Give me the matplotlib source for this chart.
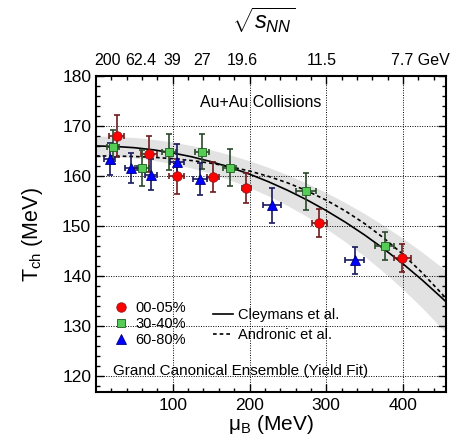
import matplotlib
matplotlib.use('Agg')
import matplotlib.pyplot as plt
from matplotlib.lines import Line2D

plt.rcParams['font.family'] = ['Liberation Sans', 'DejaVu Sans']
plt.rcParams['mathtext.fontset'] = 'custom'
plt.rcParams['mathtext.rm'] = 'Liberation Sans'
plt.rcParams['mathtext.it'] = 'Liberation Sans:italic'

# freeze-out points (muB in MeV, T in MeV)
mu_0005 = [27, 69, 105, 152, 196, 291, 399]
t_0005 = [167.9, 164.3, 159.9, 159.8, 157.5, 150.6, 143.6]
terr_0005 = [4.2, 3.6, 3.5, 3.0, 3.0, 2.8, 2.8]
muerr_0005 = [10, 10, 10, 8, 6, 10, 11]

mu_3040 = [22, 60, 95, 138, 174, 274, 376]
t_3040 = [165.8, 161.6, 164.8, 164.8, 161.6, 156.9, 146.0]
terr_3040 = [3.4, 3.6, 3.6, 3.5, 3.7, 3.7, 2.8]
muerr_3040 = [8, 9, 9, 9, 9, 13, 12]

mu_6080 = [18, 46, 72, 105, 135, 229, 337]
t_6080 = [163.4, 161.6, 160.2, 162.8, 159.4, 154.1, 143.1]
terr_6080 = [3.2, 3.0, 3.1, 3.5, 3.2, 3.5, 2.7]
muerr_6080 = [7, 8, 8, 9, 9, 12, 12]

# model curves
mu_curve = [0, 25, 50, 75, 100, 125, 150, 175, 200, 225, 250, 275,
            300, 325, 350, 375, 400, 425, 450, 455]
t_cleymans = [166.0, 165.9, 165.65, 165.22, 164.6, 163.82, 162.85, 161.69,
              160.36, 158.82, 157.1, 155.19, 153.06, 150.73, 148.18, 145.4,
              142.4, 139.16, 135.68, 134.95]
band_hi = [168.0, 167.92, 167.69, 167.31, 166.77, 166.07, 165.22, 164.2,
           163.03, 161.69, 160.19, 158.52, 156.67, 154.65, 152.45, 150.07,
           147.5, 144.74, 141.78, 141.17]
band_lo = [164.0, 163.9, 163.61, 163.13, 162.44, 161.56, 160.47, 159.18,
           157.68, 155.96, 154.02, 151.86, 149.45, 146.8, 143.9, 140.74,
           137.31, 133.59, 129.58, 128.74]
t_andronic = [164.0, 163.98, 163.89, 163.73, 163.46, 163.07, 162.54, 161.85,
              160.98, 159.9, 158.59, 157.01, 155.15, 152.97, 150.46, 147.56,
              144.29, 140.61, 136.52, 135.64]

# sqrt(sNN) labels on the top axis
top_labels = ['200', '62.4', '39', '27', '19.6', '11.5', '7.7 GeV']
top_label_mu = [15, 58, 100, 138, 190, 294, 423]

fig = plt.figure(figsize=(4.54, 4.46), dpi=100)
ax = fig.add_axes([0.2115, 0.1204, 0.7709, 0.7092])

ax.fill_between(mu_curve, band_lo, band_hi, color='#e2e2e2', lw=0, zorder=1)
ax.plot(mu_curve, t_cleymans, color='black', lw=1.2, zorder=2)
ax.plot(mu_curve, t_andronic, color='black', lw=1.2, ls=(0, (2.2, 1.8)), zorder=2)

series = [
    (mu_0005, t_0005, muerr_0005, terr_0005, 'o', '#ff0000', '#8b1a1a', '#6e1c1c', 6.8, '00-05%'),
    (mu_3040, t_3040, muerr_3040, terr_3040, 's', '#55cc55', '#1d5a1d', '#2a4a2a', 5.8, '30-40%'),
    (mu_6080, t_6080, muerr_6080, terr_6080, '^', '#0000ff', '#000080', '#1a1a5e', 7.8, '60-80%'),
]
marker_handles = []
for mu, t, muerr, terr, mk, fc, ec, barc, ms, lab in series:
    ax.errorbar(mu, t, xerr=muerr, yerr=terr, fmt='none', ecolor=barc,
                elinewidth=1.2, capsize=2.2, capthick=1.2, zorder=3)
    h, = ax.plot(mu, t, ls='none', marker=mk, ms=ms, mfc=fc, mec=ec,
                 mew=0.6, zorder=4, label=lab)
    marker_handles.append(h)

ax.set_xlim(0, 456)
ax.set_ylim(116.7, 180)
ax.set_xticks([100, 200, 300, 400])
ax.set_xticks(range(20, 456, 20), minor=True)
ax.set_yticks(range(120, 181, 10))
ax.set_yticks(range(118, 181, 2), minor=True)
ax.tick_params(which='both', direction='in', top=True, right=True, labelsize=12.5)
ax.tick_params(which='major', length=6, width=1)
ax.tick_params(which='minor', length=3, width=1)
ax.tick_params(axis='x', pad=4)
for s in ax.spines.values():
    s.set_linewidth(1.5)
ax.grid(True, which='major', color='black', ls=(0, (1, 1.5)), lw=0.7)
ax.set_axisbelow(False)

ax.set_xlabel(r'μ$_{\mathrm{B}}$ (MeV)', fontsize=15, labelpad=0)
ax.set_ylabel(r'T$_{\mathrm{ch}}$ (MeV)', fontsize=15.5, labelpad=12)

for lab, mu in zip(top_labels, top_label_mu):
    ax.text(mu, 1.05, lab, transform=ax.get_xaxis_transform(),
            ha='center', va='center', fontsize=11.5)
fig.text(0.58, 0.955, r'$\sqrt{s_{NN}}$', ha='center', va='center', fontsize=17)

ax.text(0.471, 0.915, 'Au+Au Collisions', transform=ax.transAxes,
        ha='center', va='center', fontsize=11.5)
ax.text(0.049, 0.066, 'Grand Canonical Ensemble (Yield Fit)',
        transform=ax.transAxes, ha='left', va='center', fontsize=11)

leg1 = ax.legend(handles=marker_handles, loc='center left',
                 bbox_to_anchor=(0.05, 0.215), frameon=False, fontsize=10.5,
                 handlelength=1.0, handletextpad=0.5, labelspacing=0.15,
                 borderpad=0, borderaxespad=0)
ax.add_artist(leg1)
line_handles = [Line2D([], [], color='black', lw=1.2),
                Line2D([], [], color='black', lw=1.2, ls=(0, (2.2, 1.8)))]
ax.legend(line_handles, ['Cleymans et al.', 'Andronic et al.'], loc='center left',
          bbox_to_anchor=(0.334, 0.212), frameon=False, fontsize=10.5,
          handlelength=1.35, handletextpad=0.35, labelspacing=0.4,
          borderpad=0, borderaxespad=0)

fig.savefig('out.png', dpi=100)
